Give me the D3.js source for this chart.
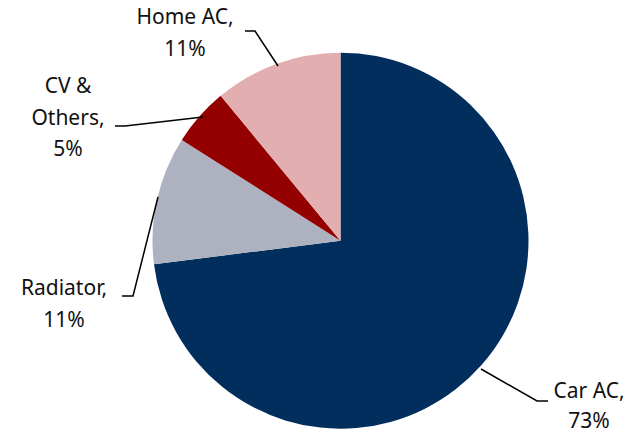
<!DOCTYPE html>
<html><head><meta charset="utf-8">
<script src="https://cdn.jsdelivr.net/npm/d3@7/dist/d3.min.js"></script>
<style>body{margin:0;background:#fff}svg{display:block}text{font-family:"Noto Sans",sans-serif;font-size:21px;fill:#111}</style>
</head><body><svg id="c" width="628" height="435"></svg>
<script>
const categories = ["Car AC", "Radiator", "CV & Others", "Home AC"];
const values = [73, 11, 5, 11];
const colors = ["#022E5D", "#ADB1C0", "#940000", "#E3AEAF"];
const labelLines = [["Car AC,", "73%"], ["Radiator,", "11%"], ["CV &", "Others,", "5%"], ["Home AC,", "11%"]];
const labelPos = [[589, 398], [64, 295], [68, 93], [185, 24]];
const lineGap = [30, 31.5, 31.5, 31.5];
const leaders = [
  [[481,369],[537,401],[548,401]],
  [[122,296],[133,296],[158,197]],
  [[115,126],[125,126],[203,117]],
  [[245,31],[255,31],[278,66]]
];
const svg = d3.select("#c");
const cx = 340.5, cy = 240.7, r = 188;
const data = categories.map((c,i)=>({c, v: values[i], i}));
const pie = d3.pie().value(d=>d.v).sort(null);
const arc = d3.arc().innerRadius(0).outerRadius(r);
const g = svg.append("g").attr("transform", `translate(${cx},${cy})`);
g.selectAll("path").data(pie(data)).join("path")
  .attr("d", arc).attr("fill", d=>colors[d.data.i]);
const line = d3.line();
svg.selectAll("path.lead").data(leaders).join("path").attr("class","lead")
  .attr("d", d=>line(d)).attr("fill","none").attr("stroke","#000").attr("stroke-width",1.5);
data.forEach((d,i)=>{
  const t = svg.append("text").attr("text-anchor","middle");
  labelLines[i].forEach((s,j)=>{
    t.append("tspan").attr("x", labelPos[i][0]).attr("y", labelPos[i][1] + j*lineGap[i]).text(s);
  });
});
</script></body></html>
